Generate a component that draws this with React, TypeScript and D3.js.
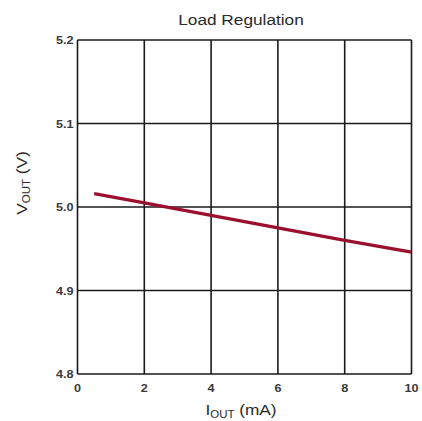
import React from "react";
import * as d3 from "d3";

const xTicks = [0, 2, 4, 6, 8, 10];
const yTicks = [4.8, 4.9, 5.0, 5.1, 5.2];
const iout = [0.5, 2, 4, 6, 8, 10];
const vout = [5.016, 5.005, 4.990, 4.975, 4.960, 4.946];

const font = "Liberation Sans, Arial, sans-serif";

function T(props: { x: number; y: number; anchor?: string; size: number; weight?: string; fill?: string; rotate?: number; sx?: number; children: React.ReactNode }) {
  const { x, y, anchor = "middle", size, weight = "normal", fill = "#2a2a2a", rotate = 0, sx = 1.15, children } = props;
  return (
    <g transform={`translate(${x},${y}) rotate(${rotate}) scale(${sx},1)`}>
      <text textAnchor={anchor} fontFamily={font} fontSize={size} fontWeight={weight} fill={fill}>{children}</text>
    </g>
  );
}

export default function App() {
  const W = 422, H = 421;
  const left = 77.5, right = 411.5, top = 40, bottom = 374;
  const x = d3.scaleLinear().domain([0, 10]).range([left, right]);
  const y = d3.scaleLinear().domain([4.8, 5.2]).range([bottom, top]);
  const pts = iout.map((v, i) => [v, vout[i]] as [number, number]);
  const line = d3.line<[number, number]>().x(d => x(d[0])).y(d => y(d[1]));
  return (
    <svg width={W} height={H} style={{ position: "absolute", left: 0, top: 0 }}>
      <rect width={W} height={H} fill="#fff" />
      <T x={241} y={25} size={15}>Load Regulation</T>
      {xTicks.map(t => (
        <line key={"x" + t} x1={x(t)} x2={x(t)} y1={top} y2={bottom} stroke="#1a1a1a" strokeWidth={1.6} />
      ))}
      {yTicks.map(t => (
        <line key={"y" + t} x1={left} x2={right} y1={y(t)} y2={y(t)} stroke="#1a1a1a" strokeWidth={1.6} />
      ))}
      <path d={line(pts) || ""} fill="none" stroke="#9a0f2e" strokeWidth={3.2} />
      {xTicks.map(t => (
        <T key={"xl" + t} x={x(t)} y={392} size={11} weight="bold" fill="#3a3a3a">{t}</T>
      ))}
      {yTicks.map(t => (
        <T key={"yl" + t} x={left - 4} y={y(t) + 4} anchor="end" size={11} weight="bold" fill="#3a3a3a">{t.toFixed(1)}</T>
      ))}
      <T x={241} y={415} size={15}>
        I<tspan fontSize={10} dy={3}>OUT</tspan><tspan dy={-3}> (mA)</tspan>
      </T>
      <T x={27} y={183} size={15} rotate={-90}>
        V<tspan fontSize={10} dy={3}>OUT</tspan><tspan dy={-3}> (V)</tspan>
      </T>
    </svg>
  );
}
